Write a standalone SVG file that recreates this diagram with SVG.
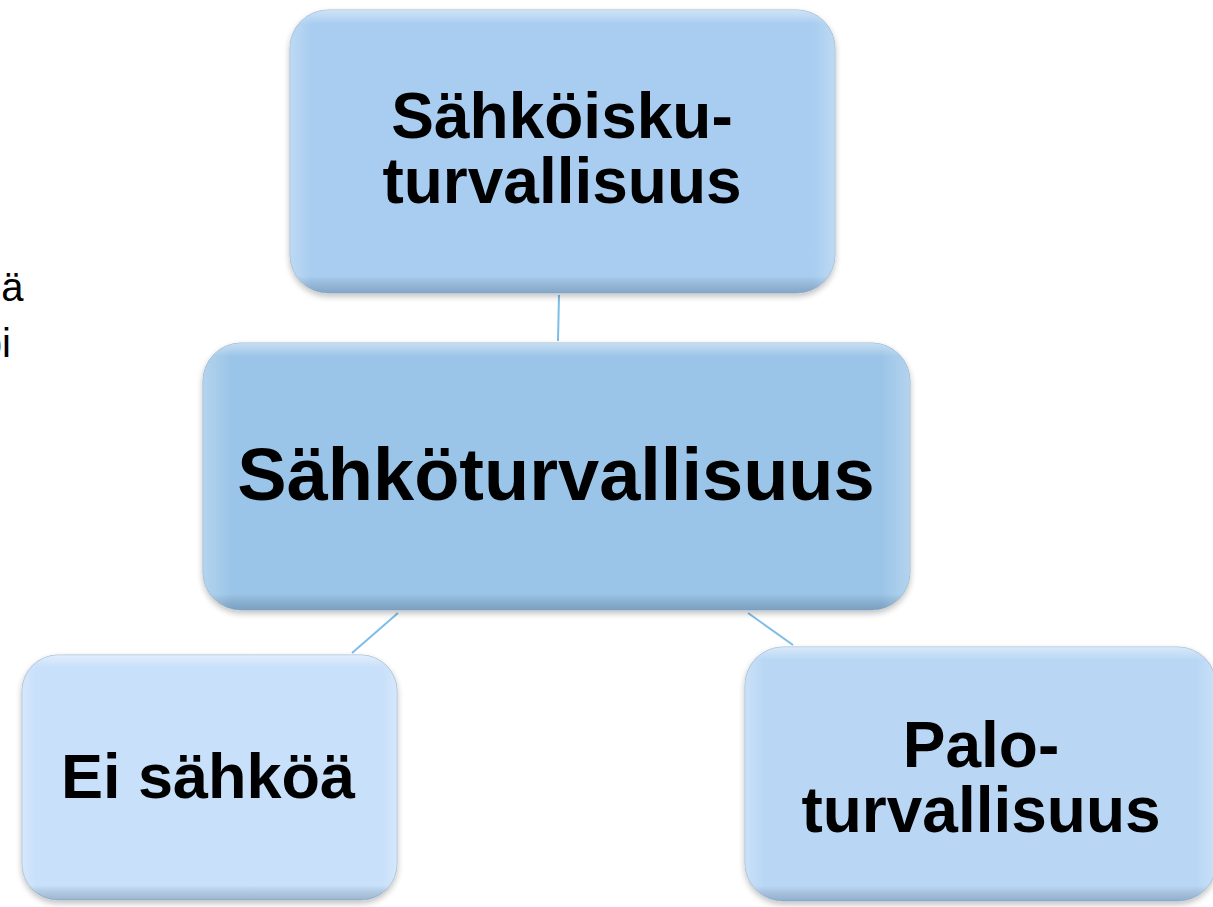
<svg xmlns="http://www.w3.org/2000/svg" width="1213" height="907" viewBox="0 0 1213 907">
<style>
.lbl{font-family:"Liberation Sans",Arial,sans-serif;font-weight:bold;fill:#000;text-anchor:middle}
.side{font-family:"Liberation Sans",Arial,sans-serif;font-size:40px;fill:#000;text-anchor:end}
.conn{stroke:#7dbde6;stroke-width:2;fill:none}
</style>
<defs>
<filter id="sh" x="-10%" y="-10%" width="120%" height="125%">
<feGaussianBlur in="SourceAlpha" stdDeviation="3"/>
<feOffset dy="3"/>
<feComponentTransfer><feFuncA type="linear" slope="0.25"/></feComponentTransfer>
<feMerge><feMergeNode/><feMergeNode in="SourceGraphic"/></feMerge>
</filter>
<linearGradient id="edgeV" x1="0" y1="0" x2="0" y2="1">
<stop offset="0" stop-color="#ffffff" stop-opacity="0.45"/>
<stop offset="0.05" stop-color="#ffffff" stop-opacity="0"/>
<stop offset="0.94" stop-color="#000000" stop-opacity="0"/>
<stop offset="1" stop-color="#1a3a5a" stop-opacity="0.25"/>
</linearGradient>
<linearGradient id="edgeH" x1="0" y1="0" x2="1" y2="0">
<stop offset="0" stop-color="#ffffff" stop-opacity="0.25"/>
<stop offset="0.04" stop-color="#ffffff" stop-opacity="0"/>
<stop offset="0.96" stop-color="#ffffff" stop-opacity="0"/>
<stop offset="1" stop-color="#ffffff" stop-opacity="0.25"/>
</linearGradient>
</defs>
<rect width="1213" height="907" fill="#ffffff"/>
<g id="sidetext">
<text class="side" x="23.5" y="301">ä</text>
<text class="side" x="11" y="357">bi</text>
</g>
<g id="connectors">
<line class="conn" x1="559" y1="295" x2="558" y2="341"/>
<line class="conn" x1="398" y1="613" x2="352" y2="653"/>
<line class="conn" x1="748" y1="613" x2="793" y2="645"/>
</g>
<g id="node-top" filter="url(#sh)">
<rect x="290" y="10" width="545" height="283" rx="38" fill="#a8cdf0" stroke="#a0bcd6" stroke-width="1"/>
<rect x="290" y="10" width="545" height="283" rx="38" fill="url(#edgeV)"/>
<rect x="290" y="10" width="545" height="283" rx="38" fill="url(#edgeH)"/>
<text class="lbl" x="562" y="138" font-size="64">Sähköisku-</text>
<text class="lbl" x="562" y="203" font-size="64">turvallisuus</text>
</g>
<g id="node-middle" filter="url(#sh)">
<rect x="203" y="343" width="707" height="267" rx="38" fill="#9bc5e8" stroke="#98b8d2" stroke-width="1"/>
<rect x="203" y="343" width="707" height="267" rx="38" fill="url(#edgeV)"/>
<rect x="203" y="343" width="707" height="267" rx="38" fill="url(#edgeH)"/>
<text class="lbl" x="556" y="500" font-size="74">Sähköturvallisuus</text>
</g>
<g id="node-left" filter="url(#sh)">
<rect x="22" y="655" width="375" height="245" rx="36" fill="#c8e0fa" stroke="#a8c0d8" stroke-width="1"/>
<rect x="22" y="655" width="375" height="245" rx="36" fill="url(#edgeV)"/>
<rect x="22" y="655" width="375" height="245" rx="36" fill="url(#edgeH)"/>
<text class="lbl" x="208" y="798" font-size="63">Ei sähköä</text>
</g>
<g id="node-right" filter="url(#sh)">
<rect x="745" y="647" width="471" height="254" rx="38" fill="#b9d7f5" stroke="#a4bfd8" stroke-width="1"/>
<rect x="745" y="647" width="471" height="254" rx="38" fill="url(#edgeV)"/>
<rect x="745" y="647" width="471" height="254" rx="38" fill="url(#edgeH)"/>
<text class="lbl" x="981" y="767" font-size="64">Palo-</text>
<text class="lbl" x="981" y="832" font-size="64">turvallisuus</text>
</g>
</svg>
